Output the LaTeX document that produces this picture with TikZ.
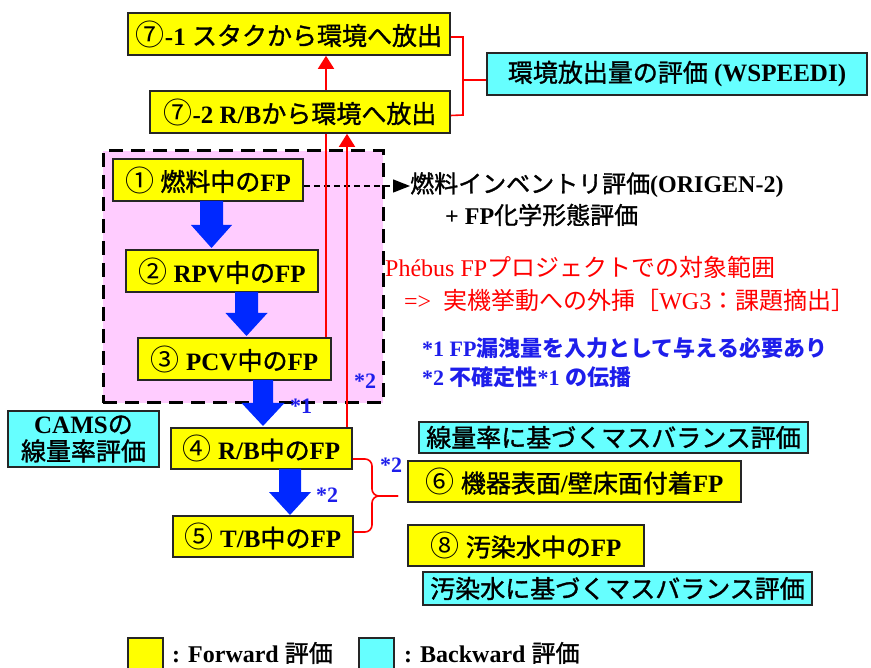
\documentclass[tikz,border=0pt]{standalone}
\usepackage{fontspec}
\setmainfont{Liberation Serif}
\newfontfamily\jp{Noto Sans CJK JP}
\newfontfamily\jpm[FakeBold=1.3]{Noto Sans CJK JP}
\usetikzlibrary{arrows.meta,calc}
\definecolor{yel}{RGB}{255,255,0}
\definecolor{cya}{RGB}{102,255,255}
\definecolor{pnk}{RGB}{255,204,255}
\definecolor{ablue}{RGB}{0,40,255}
\definecolor{tblue}{RGB}{30,30,235}
\definecolor{tred}{RGB}{255,0,0}
\newcommand\J[1]{{\jpm\mdseries #1}}
\newcommand\JR[1]{{\jp\mdseries #1}}
\newcommand\JB[1]{{\jp #1}}
\newcommand\C[1]{{\jp\mdseries\fontsize{29}{28}\selectfont #1}}
\newcommand\blockarrow[5]{% x, ytop, ytip, shaft half, head half
  \fill[ablue] (#1-#4,#2) -- (#1+#4,#2) -- (#1+#4,#3-23) -- (#1+#5,#3-23) -- (#1,#3)
    -- (#1-#5,#3-23) -- (#1-#4,#3-23) -- cycle;}
\begin{document}
\begin{tikzpicture}[x=1pt,y=-1pt,
  fbox/.style={draw=black!85, line width=1.6pt, fill=yel, inner sep=0pt,
    font=\fontsize{25}{28}\selectfont\bfseries},
  bbox/.style={draw=black!85, line width=1.6pt, fill=cya, inner sep=0pt,
    font=\fontsize{25}{28}\selectfont\bfseries, align=center},
  side/.style={anchor=west, inner sep=0pt, font=\fontsize{24}{28}\selectfont\bfseries},
  redt/.style={anchor=west, inner sep=0pt, text=tred, font=\fontsize{24}{28}\selectfont},
  bluet/.style={anchor=west, inner sep=0pt, text=tblue, font=\fontsize{22}{26}\selectfont\bfseries},
  star/.style={inner sep=0pt, text=tblue, font=\fontsize{22}{26}\selectfont\bfseries},
  redl/.style={draw=tred, line width=1.6pt},
  redarr/.style={redl, -{Triangle[length=13pt,width=16pt]}},
]
\useasboundingbox (0,0) rectangle (871,668);

% pink scope region
\node (region) [draw=black, line width=3pt, dash pattern=on 14pt off 8pt, fill=pnk,
  minimum width=280, minimum height=252, inner sep=0pt] at (243,277) {};

% boxes
\node (b71) [fbox, minimum width=322, minimum height=42] at (289,34) {\C{⑦}-1 \J{スタクから環境へ放出}};
\node (b72) [fbox, minimum width=300, minimum height=42] at (300,112) {\C{⑦}-2 R/B\J{から環境へ放出}};
\node (wsp) [bbox, minimum width=380, minimum height=42] at (677,74) {\J{環境放出量の評価} (WSPEEDI)};

\node (b1) [fbox, minimum width=190, minimum height=42] at (208,180) {\C{①} \J{燃料中の}FP};
\node (b2) [fbox, minimum width=192, minimum height=42] at (222,271) {\C{②} RPV\J{中の}FP};
\node (b3) [fbox, minimum width=193, minimum height=42] at (234.5,359) {\C{③} PCV\J{中の}FP};
\node (b4) [fbox, minimum width=181, minimum height=41] at (261.5,448.5) {\C{④} R/B\J{中の}FP};
\node (b5) [fbox, minimum width=180, minimum height=41] at (263,536.5) {\C{⑤} T/B\J{中の}FP};
\node (cams) [bbox, minimum width=151, minimum height=56] at (83.5,439) {CAMS\J{の}\\[-1pt]\J{線量率評価}};

\node (cy1) [bbox, minimum width=389, minimum height=31] at (613.5,437.5) {\J{線量率に基づくマスバランス評価}};
\node (b6) [fbox, minimum width=333, minimum height=41] at (574.5,481.5) {\C{⑥} \J{機器表面}/\J{壁床面付着}FP};
\node (b8) [fbox, minimum width=236, minimum height=41] at (526,545.5) {\C{⑧} \J{汚染水中の}FP};
\node (cy2) [bbox, minimum width=389, minimum height=33] at (617.5,588.5) {\J{汚染水に基づくマスバランス評価}};

% side texts
\node (orig) [side] at (410,185) {\J{燃料インベントリ評価}(ORIGEN-2)};
\node (chem) [side] at (445,215) {+ FP\J{化学形態評価}};
\node (ph1) [redt] at (385,267) {Phébus FP\JR{プロジェクトでの対象範囲}};
\node (ph2) [redt] at (404,300) {=>\ \ \JR{実機挙動への外挿［}WG3\JR{：課題摘出］}};
\node (n1) [bluet] at (422,348) {*1 FP\JB{漏洩量を入力として与える必要あり}};
\node (n2) [bluet] at (422,377) {*2 \JB{不確定性}*1 \JB{の伝播}};

% dashed arrow
\draw[line width=1.4pt, dash pattern=on 6pt off 4pt, -{Triangle[length=17pt,width=13pt]}]
  ([yshift=-6pt]b1.east) -- ([yshift=-6pt]b1.east -| orig.west);

% blue block arrows
\blockarrow{211.5}{201}{248}{11.5}{20.5}
\blockarrow{246.5}{292}{336}{11.5}{21}
\blockarrow{263}{380}{426}{10}{21.5}
\blockarrow{290}{469}{515}{11}{21}

% red connectors
\draw[redl] ([xshift=91.5pt]b3.north) -- ([xshift=91.5pt]b3.north |- b72.south);
\draw[redarr] (347,0 |- b4.north) -- (347,0 |- b72.south);
\draw[redarr] (326,0 |- b72.north) -- (326,0 |- b71.south);
\draw[redl] ([yshift=-3pt]b71.east) -- (463,37) -- (463,115) -- ([yshift=-3.5pt]b72.east);
\coordinate (wj) at (463,80);
\draw[redl] (wj) -- (wsp.west |- wj);
\draw[redl, rounded corners=7pt] ([yshift=-10.5pt]b4.east) -- (372,459) -- (372,496) -- (398,496);
\draw[redl, rounded corners=7pt] ([yshift=4.5pt]b5.east) -- (372,532) -- (372,496) -- (398,496);

% stars
\node (s1) [star] at (301,406) {*1};
\node (s2a) [star] at (365,381) {*2};
\node (s2b) [star] at (391,465) {*2};
\node (s2c) [star] at (327,495) {*2};

% legend
\node (ly) [fbox, minimum width=35, minimum height=36, anchor=north west] at (127,637) {};
\node (lyt) [anchor=west, inner sep=0pt, font=\fontsize{24}{28}\selectfont\bfseries] at (172,653) {: Forward \J{評価}};
\node (lc) [bbox, minimum width=35, minimum height=36, anchor=north west] at (358,637) {};
\node (lct) [anchor=west, inner sep=0pt, font=\fontsize{24}{28}\selectfont\bfseries] at (404,653) {: Backward \J{評価}};
\end{tikzpicture}
\end{document}
